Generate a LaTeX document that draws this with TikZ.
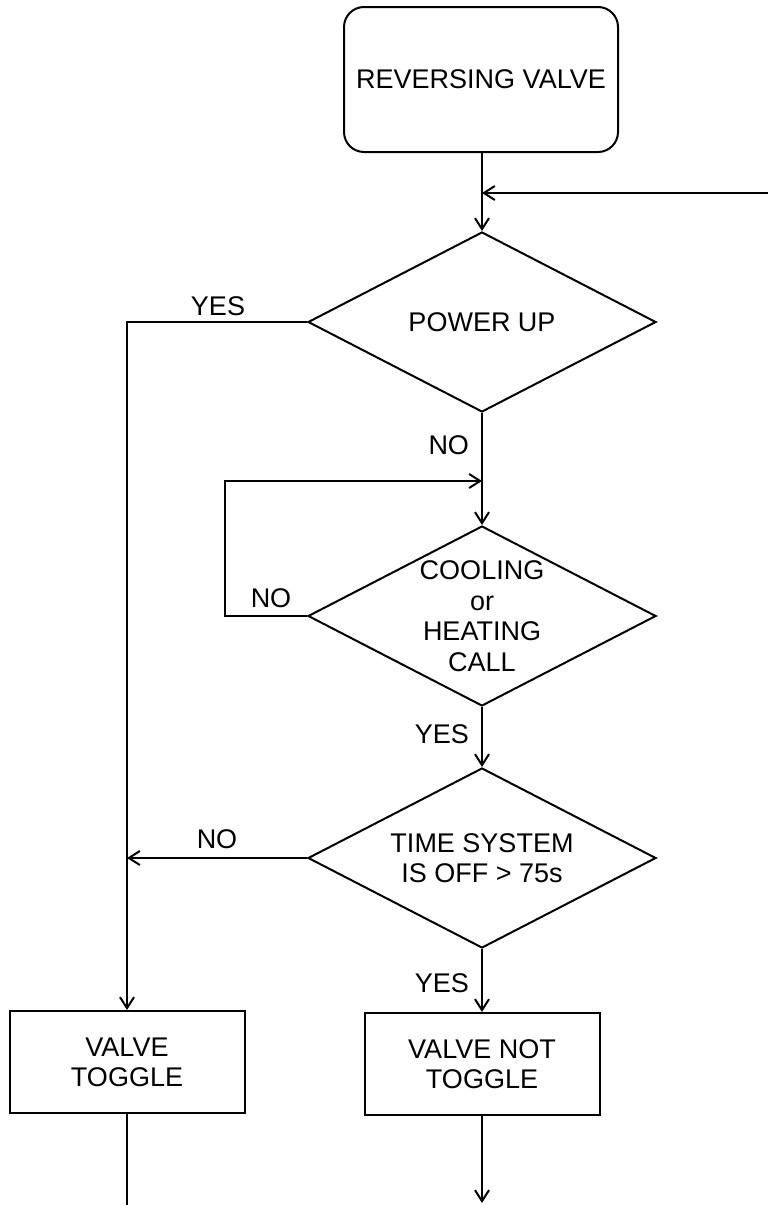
\documentclass[tikz,border=0pt]{standalone}
\usepackage{fontspec}
\setmainfont{Liberation Sans}
\usetikzlibrary{shapes.geometric,arrows.meta}
\tikzset{decision/.style={diamond,draw,aspect=1.93,inner sep=0pt,minimum width=348pt,minimum height=180pt,align=center,font=\fontsize{27}{30.5}\selectfont},
	action box/.style={rectangle,draw,inner sep=0pt,minimum width=235pt,minimum height=102pt,align=center,font=\fontsize{27}{30}\selectfont},
	start box/.style={rectangle,draw,rounded corners=20pt,minimum width=274pt,minimum height=145pt,font=\fontsize{27}{30}\selectfont},
	flow label/.style={inner sep=0pt,font=\fontsize{27}{30}\selectfont},
	flow/.style={-{Straight Barb[length=11pt,width=14pt]}}}

\begin{document}
\begin{tikzpicture}[x=1pt, y=-1pt, line width=2pt]
	\useasboundingbox (0,0) rectangle (768,1205);

	\node [start box] (start) at (481,79.5) {REVERSING VALVE};
	\node [decision] (power) at (482,322) {POWER UP};
	\node [decision] (call) at (482,616) {COOLING\\or\\HEATING\\CALL};
	\node [decision] (time) at (482,858) {TIME SYSTEM\\IS OFF > 75s};
	\node [action box] (toggle) at (127,1062) {VALVE\\TOGGLE};
	\node [action box] (keep) at (482,1064) {VALVE NOT\\TOGGLE};

	\coordinate (back) at (768,193);
	\coordinate (loop) at (225,481);
	\coordinate (outleft) at (127,1205);
	\coordinate (outright) at (482,1203);

	\draw [flow] (start.south -| power.north) to (power);
	\draw [flow] (back) to (back -| power.north);
	\draw [flow] (power.west) -| (toggle.north);
	\draw [flow] (power) to (call);
	\draw [flow] (call.west) -| (loop) to (loop -| call.north);
	\draw [flow] (call) to (time);
	\draw [flow] (time.west) to (time.west -| toggle.north);
	\draw [flow] (time) to (keep);
	\draw (toggle) to (outleft);
	\draw [flow] (keep) to (outright);

	\node [flow label] (yes power) at (218,306) {YES};
	\node [flow label, anchor=east] (no power) at (470,445) {NO};
	\node [flow label] (no call) at (271,598) {NO};
	\node [flow label, anchor=east] (yes call) at (470,734) {YES};
	\node [flow label] (no time) at (217,839) {NO};
	\node [flow label, anchor=east] (yes time) at (470,983) {YES};
\end{tikzpicture}
\end{document}
